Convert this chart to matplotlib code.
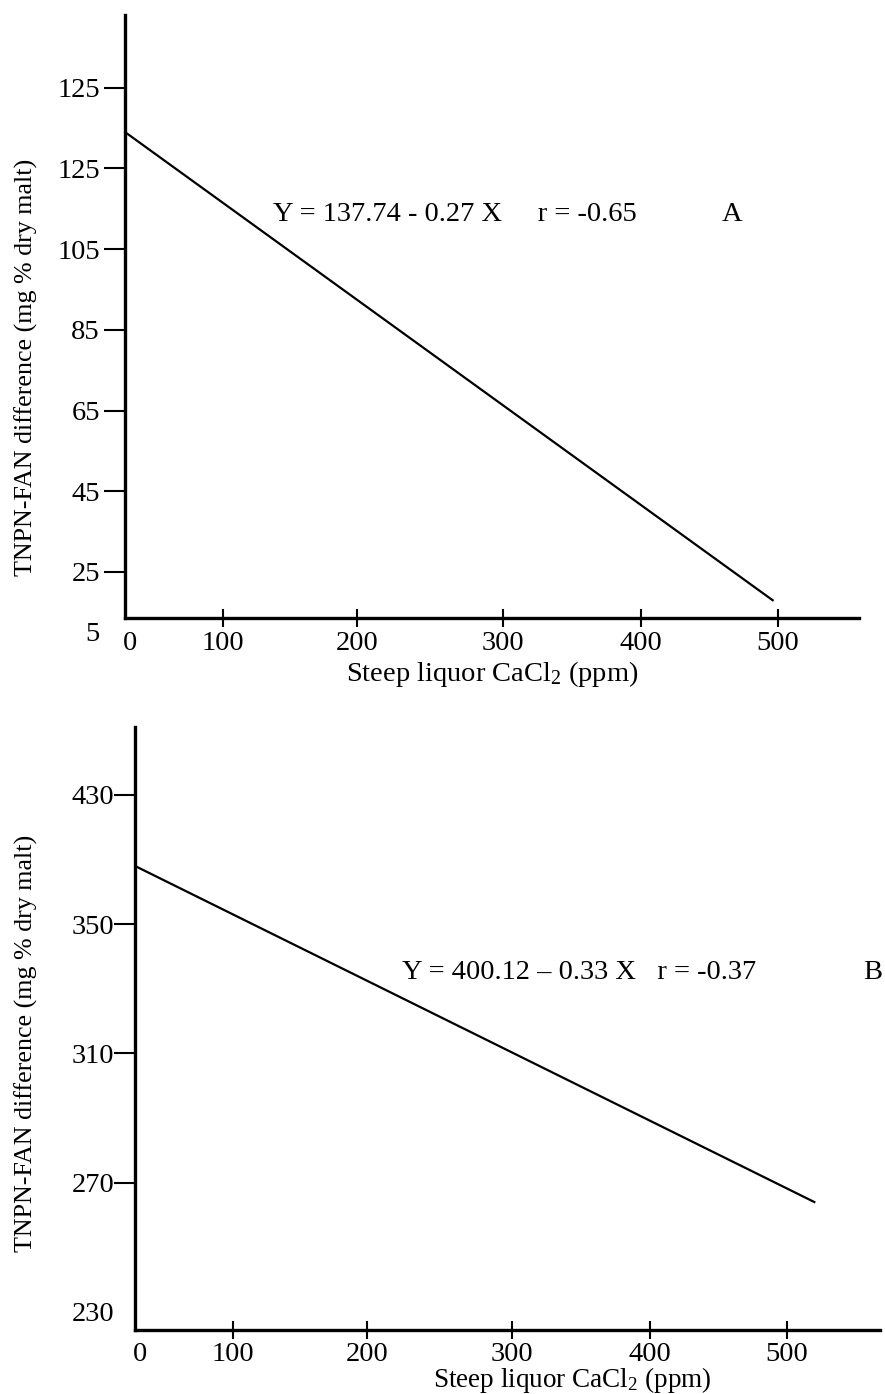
import matplotlib
matplotlib.use('Agg')
import matplotlib.pyplot as plt
import numpy as np
from matplotlib.transforms import ScaledTranslation

plt.rcParams['font.family'] = ['Liberation Serif', 'DejaVu Serif']
plt.rcParams['mathtext.fontset'] = 'custom'
plt.rcParams['mathtext.rm'] = 'Liberation Serif'
plt.rcParams['mathtext.it'] = 'Liberation Serif:italic'

# x axis (both panels)
x_ticks = [0, 100, 200, 300, 400, 500]
x_label = 'Steep liquor CaCl$_2$ (ppm)'
y_label = 'TNPN-FAN difference (mg % dry malt)'

# panel A
a_yticks = [145, 125, 105, 85, 65, 45, 25]
a_ylabels = ['125', '125', '105', '85', '65', '45', '25']
a_line_x = [0, 496]
a_line_y = [134, 18]
a_eq = 'Y = 137.74 - 0.27 X     r = -0.65'

# panel B
b_yticks = [390, 350, 310, 270, 230]
b_ylabels = ['430', '350', '310', '270', '230']
b_line_x = [0, 520]
b_line_y = [368, 264]
b_eq = 'Y = 400.12 \u2013 0.33 X   r = -0.37'

# the source figure spaces its x ticks unevenly, so stretch the axis the same way
x_draw = [0, 98, 232, 378, 516, 653]
xv = np.array([-1000.0] + x_ticks + [1500.0])
xd = np.array([-980.0] + x_draw + [653 + 1000 * 1.37])


def fwd(v):
    return np.interp(v, xv, xd)


def inv(d):
    return np.interp(d, xd, xv)


FS = 20.5


def style_axes(ax, yticks, ylabels, ylim, xmax, ylab_pos, xlab_x, ypad,
               xtpad, xlpad, xlfs):
    ax.set_xscale('function', functions=(fwd, inv))
    ax.set_xlim(0, xmax)
    ax.set_ylim(*ylim)
    for s in ['top', 'right']:
        ax.spines[s].set_visible(False)
    for s in ['left', 'bottom']:
        ax.spines[s].set_linewidth(2.4)
    ax.set_xticks(x_ticks)
    ax.set_xticklabels([str(v) for v in x_ticks])
    ax.set_yticks(yticks)
    ax.set_yticklabels(ylabels)
    ax.tick_params(axis='x', direction='inout', length=13, width=1.5,
                   labelsize=FS, pad=xtpad)
    ax.tick_params(axis='y', direction='out', length=15, width=1.5,
                   labelsize=FS, pad=ypad)
    # no tick mark at the origin
    ax.xaxis.get_major_ticks()[0].tick1line.set_visible(False)
    off = ScaledTranslation(5 / 100, 0, ax.figure.dpi_scale_trans)
    lab0 = ax.get_xticklabels()[0]
    lab0.set_transform(lab0.get_transform() + off)
    ax.set_ylabel(y_label, fontsize=18.7)
    ax.yaxis.set_label_coords(*ylab_pos)
    ax.set_xlabel(x_label, fontsize=xlfs, labelpad=xlpad)
    ax.xaxis.label.set_x(xlab_x)


fig = plt.figure(figsize=(8.85, 13.94), dpi=100)

axA = fig.add_axes([125 / 885, 1 - 618 / 1394, 734 / 885, 603 / 1394])
style_axes(axA, a_yticks, a_ylabels, (13.6, 163), 559, (-0.1185, 0.415),
           0.501, 3, 3, 2, FS)
axA.plot(a_line_x, a_line_y, color='black', lw=1.6)
axA.text(-0.034, 9.4, '5', transform=axA.get_yaxis_transform(),
         ha='right', va='center', fontsize=FS)
axA.text(137, 113.5, a_eq, ha='left', va='center', fontsize=FS)
axA.text(459, 113.5, 'A', ha='left', va='center', fontsize=FS)

axB = fig.add_axes([135 / 885, 1 - 1330 / 1394, 745 / 885, 603 / 1394])
style_axes(axB, b_yticks, b_ylabels, (224.4, 411), 568, (-0.130, 0.476),
           0.587, 0, 2, -1, 19.5)
axB.yaxis.get_major_ticks()[-1].tick1line.set_visible(False)
axB.plot(b_line_x, b_line_y, color='black', lw=1.6)
axB.text(224, 335, b_eq, ha='left', va='center', fontsize=FS)
axB.text(556, 335, 'B', ha='left', va='center', fontsize=FS)

fig.savefig('out.png', dpi=100)
